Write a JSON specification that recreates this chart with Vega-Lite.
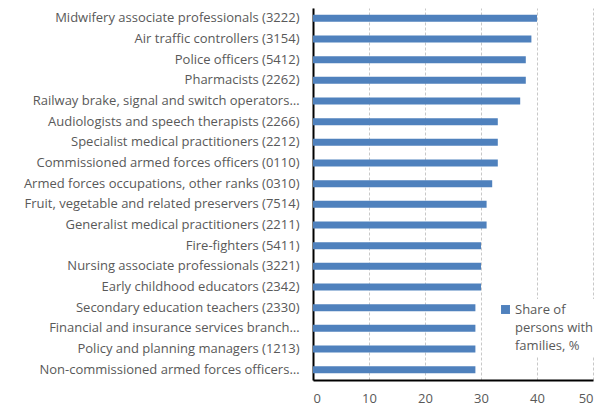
{
  "$schema": "https://vega.github.io/schema/vega-lite/v6.json",
  "autosize": {"type": "none"},
  "width": 280,
  "height": 372,
  "padding": {"left": 313, "top": 8, "right": 22, "bottom": 30},
  "background": "white",
  "data": {
    "values": [
      {"occupation": "Midwifery associate professionals (3222)", "share": 40, "series": "Share of persons with families, %"},
      {"occupation": "Air traffic controllers (3154)", "share": 39, "series": "Share of persons with families, %"},
      {"occupation": "Police officers (5412)", "share": 38, "series": "Share of persons with families, %"},
      {"occupation": "Pharmacists (2262)", "share": 38, "series": "Share of persons with families, %"},
      {"occupation": "Railway brake, signal and switch operators…", "share": 37, "series": "Share of persons with families, %"},
      {"occupation": "Audiologists and speech therapists (2266)", "share": 33, "series": "Share of persons with families, %"},
      {"occupation": "Specialist medical practitioners (2212)", "share": 33, "series": "Share of persons with families, %"},
      {"occupation": "Commissioned armed forces officers (0110)", "share": 33, "series": "Share of persons with families, %"},
      {"occupation": "Armed forces occupations, other ranks (0310)", "share": 32, "series": "Share of persons with families, %"},
      {"occupation": "Fruit, vegetable and related preservers (7514)", "share": 31, "series": "Share of persons with families, %"},
      {"occupation": "Generalist medical practitioners (2211)", "share": 31, "series": "Share of persons with families, %"},
      {"occupation": "Fire-fighters (5411)", "share": 30, "series": "Share of persons with families, %"},
      {"occupation": "Nursing associate professionals (3221)", "share": 30, "series": "Share of persons with families, %"},
      {"occupation": "Early childhood educators (2342)", "share": 30, "series": "Share of persons with families, %"},
      {"occupation": "Secondary education teachers (2330)", "share": 29, "series": "Share of persons with families, %"},
      {"occupation": "Financial and insurance services branch…", "share": 29, "series": "Share of persons with families, %"},
      {"occupation": "Policy and planning managers (1213)", "share": 29, "series": "Share of persons with families, %"},
      {"occupation": "Non-commissioned armed forces officers…", "share": 29, "series": "Share of persons with families, %"}
    ]
  },
  "mark": {"type": "bar", "color": "#4F81BD"},
  "encoding": {
    "y": {
      "field": "occupation",
      "type": "nominal",
      "sort": null,
      "title": null,
      "scale": {"paddingInner": 0.66, "paddingOuter": 0.33},
      "axis": {
        "ticks": false,
        "domainColor": "black",
        "domainWidth": 2,
        "labelFont": "Open Sans",
        "labelFontSize": 13,
        "labelColor": "#595959",
        "labelPadding": 14,
        "labelLimit": 320
      }
    },
    "x": {
      "field": "share",
      "type": "quantitative",
      "title": null,
      "scale": {"domain": [0, 50], "nice": false},
      "axis": {
        "values": [0, 10, 20, 30, 40, 50],
        "ticks": false,
        "domainColor": "black",
        "domainWidth": 2,
        "gridColor": "#c8c8c8",
        "gridDash": [3, 2],
        "labelFont": "Open Sans",
        "labelFontSize": 13,
        "labelColor": "#595959",
        "labelPadding": 12
      }
    },
    "fill": {
      "field": "series",
      "type": "nominal",
      "scale": {"range": ["#4F81BD"]},
      "legend": {
        "title": null,
        "orient": "none",
        "legendX": 182,
        "legendY": 291,
        "fillColor": "white",
        "padding": 4,
        "symbolType": "square",
        "symbolSize": 80,
        "symbolStrokeWidth": 0,
        "labelOffset": 3,
        "labelFont": "Open Sans",
        "labelFontSize": 13,
        "labelColor": "#595959",
        "labelBaseline": "middle",
        "labelExpr": "['Share of', 'persons with', 'families, %']"
      }
    }
  },
  "config": {
    "view": {"stroke": null},
    "style": {"guide-label": {"lineHeight": 18}}
  }
}
